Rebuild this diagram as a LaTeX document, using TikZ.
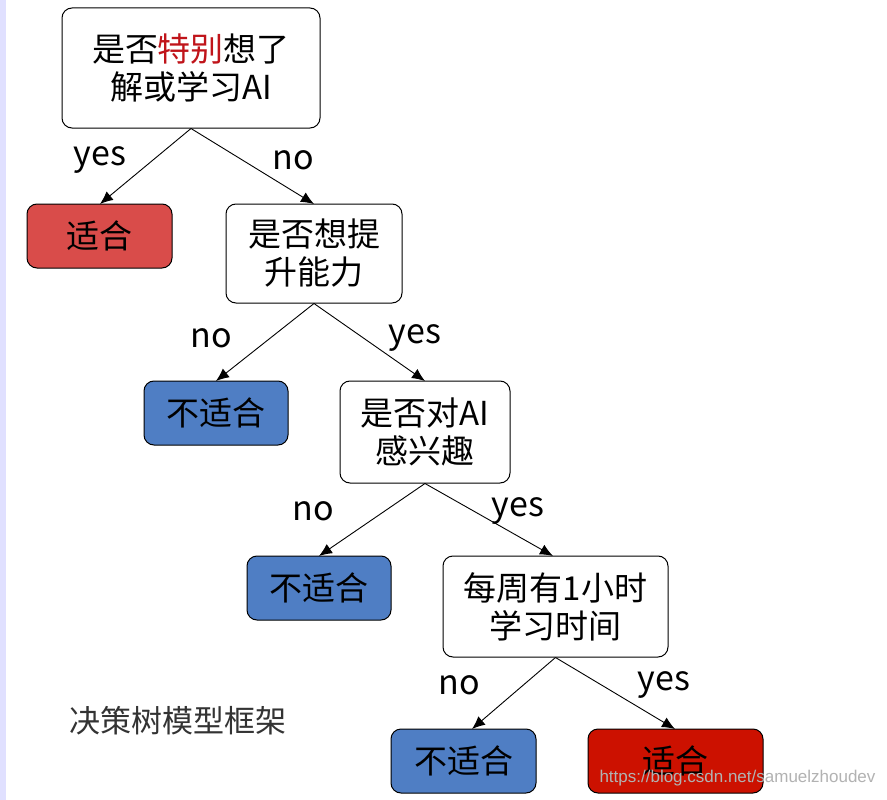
\documentclass[tikz,border=0pt]{standalone}
\usepackage{fontspec}
\setmainfont{Noto Sans CJK SC}
\newfontfamily\wmfont{Liberation Sans}
\usetikzlibrary{arrows.meta}
\definecolor{redA}{HTML}{D94C4A}
\definecolor{redB}{HTML}{CC1100}
\definecolor{blueA}{HTML}{4F7EC4}
\definecolor{textred}{HTML}{C0141A}
\begin{document}
\begin{tikzpicture}[x=1pt,y=-1pt,
 box/.style={draw=black,line width=1pt,rounded corners=10pt,align=center,inner sep=0pt,font=\fontsize{33}{38}\selectfont},
 lab/.style={font=\fontsize{34}{36}\selectfont},
 arr/.style={-{Latex[length=13pt,width=11pt]},line width=0.9pt}]
\useasboundingbox (0,0) rectangle (887,800);
\fill[white] (0,0) rectangle (887,800);
\fill[blue!12] (0,0) rectangle (6,800);
\newcommand\bx[6]{\node[box,fill=#5,minimum width=#3-#1,minimum height=#4-#2] (#6) at ({(#1+#3)/2},{(#2+#4)/2}) {};}
\bx{62}{8}{320}{128}{white}{q1}
\bx{27}{204}{172}{268}{redA}{s1}
\bx{226}{204}{402}{303}{white}{q2}
\bx{144}{381}{288}{445}{blueA}{n1}
\bx{340}{381}{510}{483}{white}{q3}
\bx{247}{556}{391}{620}{blueA}{n2}
\bx{443}{556}{668}{657}{white}{q4}
\bx{391}{729}{536}{793}{blueA}{n3}
\bx{588}{729}{763}{793}{redB}{s2}
\node[box,draw=none] (t1) at (q1) {是否\textcolor{textred}{特别}想了\\解或学习AI};
\node[box,draw=none] (t2) at (q2) {是否想提\\升能力};
\node[box,draw=none] (t3) at (q3) {是否对AI\\感兴趣};
\node[box,draw=none] (t4) at (q4) {每周有1小时\\学习时间};
\node[box,draw=none] (ts1) at (s1) {适合};
\node[box,draw=none] (ts2) at (s2) {适合};
\node[box,draw=none] (tn1) at (n1) {不适合};
\node[box,draw=none] (tn2) at (n2) {不适合};
\node[box,draw=none] (tn3) at (n3) {不适合};
\draw[arr] (q1.south) -- (100,204);
\draw[arr] (q1.south) -- (314,204);
\draw[arr] (q2.south) -- (216,381);
\draw[arr] (q2.south) -- (425,381);
\draw[arr] (q3.south) -- (319,556);
\draw[arr] (q3.south) -- (553,556);
\draw[arr] (q4.south) -- (472,729);
\draw[arr] (q4.south) -- (675,729);
\node[lab] (l1) at (100,160) {yes};
\node[lab] (l2) at (293,160) {no};
\node[lab] (l3) at (211,338) {no};
\node[lab] (l4) at (415,338) {yes};
\node[lab] (l5) at (313,511) {no};
\node[lab] (l6) at (518,511) {yes};
\node[lab] (l7) at (459,685) {no};
\node[lab] (l8) at (664,685) {yes};
\node[font=\fontsize{31}{34}\selectfont,text=black!80] (title) at (178,721) {决策树模型框架};
\node[font=\fontsize{17}{18}\selectfont\wmfont,text=black!30,anchor=east] (wm) at (879,778) {https://blog.csdn.net/samuelzhoudev};
\end{tikzpicture}
\end{document}
